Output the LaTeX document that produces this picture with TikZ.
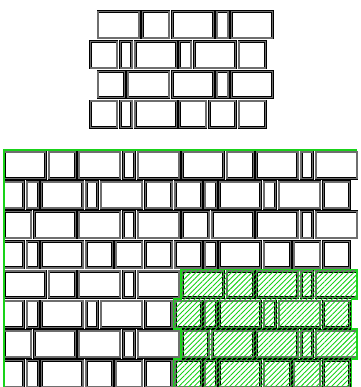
\documentclass[tikz,border=0pt]{standalone}
\usetikzlibrary{patterns.meta}
\definecolor{mortargray}{RGB}{110,110,110}
\definecolor{selgreen}{RGB}{25,210,25}

\newcommand{\walltile}[2]{%
  \begin{scope}[shift={(#1,#2)}, x=14.83pt, y=-14.9pt]
    \foreach \r/\s/\w in {1/0.5/3, 1/3.5/2, 1/5.5/3, 1/8.5/1, 1/9.5/3,
                          2/0/2, 2/2/1, 2/3/3, 2/6/1, 2/7/3, 2/10/2,
                          3/0.5/2, 3/2.5/3, 3/5.5/3, 3/8.5/1, 3/9.5/3,
                          4/0/2, 4/2/1, 4/3/3, 4/6/2, 4/8/2, 4/10/2}
      \draw[brick] ([shift={(1.7pt,-1.7pt)}]\s,{2*\r-2}) rectangle ([shift={(-1.7pt,1.7pt)}]{\s+\w},{2*\r});
  \end{scope}}

\begin{document}
\begin{tikzpicture}[
  x=1pt, y=-1pt,
  brick/.style={draw=black, line width=0.6pt, double=mortargray, double distance=1.5pt, fill=white},
  frame/.style={draw=selgreen, line width=1.8pt},
  hatch/.style={draw=selgreen, line width=1.8pt, pattern={Lines[angle=45, distance=3.6pt, line width=0.9pt]}, pattern color=selgreen}
]
\useasboundingbox (0,0) rectangle (360,387);

\walltile{89}{10}

\begin{scope}
  \clip (4,150) rectangle (360,400);
  \walltile{-4.5}{150.3}
  \walltile{173.46}{150.3}
  \walltile{-4.5}{269.5}
  \walltile{173.46}{269.5}
\end{scope}

\begin{scope}[shift={(173.46,269.5)}, x=14.83pt, y=-14.9pt]
  \draw[hatch] (0.5,0) -- (12.4,0) -- (12.4,2) -- (12,2) -- (12,4) -- (12.4,4) -- (12.4,6) -- (12,6)
    -- (12,8.2) -- (0,8.2) -- (0,6) -- (0.5,6) -- (0.5,4) -- (0,4) -- (0,2) -- (0.5,2) -- cycle;
\end{scope}

\draw[frame] (4,395) -- (4,150) -- (357,150);
\end{tikzpicture}
\end{document}
